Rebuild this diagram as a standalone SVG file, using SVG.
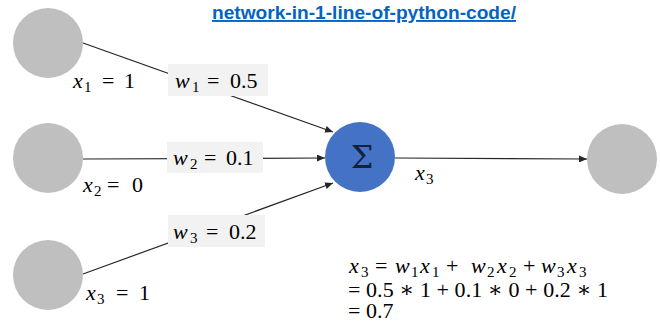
<svg xmlns="http://www.w3.org/2000/svg" width="661" height="322" viewBox="0 0 661 322">
<style>
.in{fill:#BFBFBF}
.sum{fill:#4472C4}
.edge{stroke:#262626;stroke-width:1.2;fill:none}
.lbl{fill:#F2F2F2}
.m{font-family:"Liberation Serif","DejaVu Serif",serif;font-size:22px;fill:#000}
.v{font-style:italic}
.s{font-size:15px}
.link{font-family:"Liberation Sans",Arial,sans-serif;font-weight:bold;font-size:19px;fill:#0563C1;text-decoration:underline}
</style>
<defs>
<marker id="arr" markerUnits="userSpaceOnUse" markerWidth="9" markerHeight="7" refX="8" refY="3.5" orient="auto">
<path d="M0,0 L8,3.5 L0,7 z" fill="#262626"/>
</marker>
</defs>
<rect width="661" height="322" fill="#fff"/>
<text class="link" x="212" y="19" textLength="304" lengthAdjust="spacingAndGlyphs">network-in-1-line-of-python-code/</text>

<g id="connectors">
<line class="edge" x1="83" y1="43" x2="333" y2="132" marker-end="url(#arr)"/>
<line class="edge" x1="83" y1="159" x2="325" y2="158" marker-end="url(#arr)"/>
<line class="edge" x1="83" y1="274" x2="333" y2="183" marker-end="url(#arr)"/>
<line class="edge" x1="395" y1="158" x2="587" y2="159" marker-end="url(#arr)"/>
<g id="w1">
<rect class="lbl" x="168" y="64" width="100" height="32"/>
<text class="m" y="88"><tspan class="v" x="175">w</tspan><tspan class="s" x="192" dy="4">1</tspan><tspan x="207" dy="-4">=</tspan><tspan x="230">0.5</tspan></text>
</g>
<g id="w2">
<rect class="lbl" x="167" y="142" width="96" height="31"/>
<text class="m" y="165"><tspan class="v" x="173">w</tspan><tspan class="s" x="190" dy="4">2</tspan><tspan x="204" dy="-4">=</tspan><tspan x="226">0.1</tspan></text>
</g>
<g id="w3">
<rect class="lbl" x="168" y="215" width="97" height="32"/>
<text class="m" y="239"><tspan class="v" x="173">w</tspan><tspan class="s" x="190" dy="4">3</tspan><tspan x="206" dy="-4">=</tspan><tspan x="229">0.2</tspan></text>
</g>
<text class="m" y="180"><tspan class="v" x="415">x</tspan><tspan class="s" x="426" dy="4">3</tspan></text>
</g>

<g id="in1">
<circle class="in" cx="48" cy="43" r="35"/>
<text class="m" y="88"><tspan class="v" x="73">x</tspan><tspan class="s" x="84" dy="4">1</tspan><tspan x="102" dy="-4">=</tspan><tspan x="124">1</tspan></text>
</g>
<g id="in2">
<circle class="in" cx="48" cy="158" r="35"/>
<text class="m" y="192"><tspan class="v" x="83">x</tspan><tspan class="s" x="94" dy="4">2</tspan><tspan x="107" dy="-4">=</tspan><tspan x="132">0</tspan></text>
</g>
<g id="in3">
<circle class="in" cx="48" cy="275" r="35"/>
<text class="m" y="300"><tspan class="v" x="86">x</tspan><tspan class="s" x="97" dy="4">3</tspan><tspan x="116" dy="-4">=</tspan><tspan x="139">1</tspan></text>
</g>
<g id="sum">
<circle class="sum" cx="360" cy="157" r="35"/>
<text x="362" y="168" text-anchor="middle" font-family="DejaVu Serif, Liberation Serif, serif" font-size="32" fill="#14213D">Σ</text>
</g>
<g id="out">
<circle class="in" cx="622" cy="159" r="35"/>
</g>

<g id="equation">
<text class="m" y="273"><tspan class="v" x="349">x</tspan><tspan class="s" x="361" dy="4">3</tspan><tspan x="375" dy="-4">=</tspan><tspan class="v" x="395">w</tspan><tspan class="s" x="411" dy="4">1</tspan><tspan class="v" x="420" dy="-4">x</tspan><tspan class="s" x="432" dy="4">1</tspan><tspan x="446" dy="-4">+</tspan><tspan class="v" x="471">w</tspan><tspan class="s" x="487" dy="4">2</tspan><tspan class="v" x="497" dy="-4">x</tspan><tspan class="s" x="509" dy="4">2</tspan><tspan x="523" dy="-4">+</tspan><tspan class="v" x="541">w</tspan><tspan class="s" x="557" dy="4">3</tspan><tspan class="v" x="567" dy="-4">x</tspan><tspan class="s" x="579" dy="4">3</tspan></text>
<text class="m" x="348" y="297" textLength="260" lengthAdjust="spacing">= 0.5 ∗ 1 + 0.1 ∗ 0 + 0.2 ∗ 1</text>
<text class="m" x="348" y="318">= 0.7</text>
</g>
</svg>
